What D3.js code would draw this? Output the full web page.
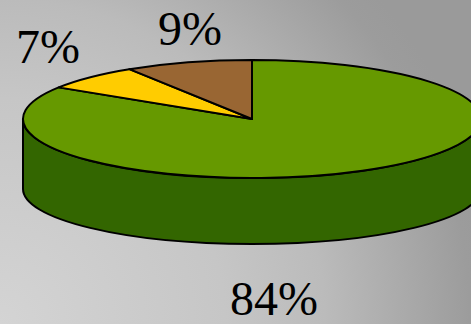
<!DOCTYPE html>
<html>
<head>
<meta charset="utf-8">
<script src="https://cdn.jsdelivr.net/npm/d3@7"></script>
<style>
  html, body { margin: 0; padding: 0; background: #bcbcbc; }
  svg { display: block; }
</style>
</head>
<body>
<svg id="chart" width="471" height="324"></svg>
<script>
// ---- data ----
const categories = ["A", "B", "C"];
const values = [84, 7, 9];
const labels = ["84%", "7%", "9%"];
const topColors = ["#669900", "#ffcc00", "#996633"];
const sideColors = ["#336600", "#cc9900", "#663300"];

// ---- layout ----
const W = 471, H = 324;
const cx = 252, cy = 119, rx = 229, ry = 59, depth = 70, ryBottom = 55;
// label anchor points (text centre, baseline) chosen to match the reference
const labelPos = [[274, 315], [48, 63], [190, 45]];

const svg = d3.select("#chart");
const defs = svg.append("defs");
const grad = defs.append("radialGradient")
  .attr("id", "bg").attr("gradientUnits", "userSpaceOnUse")
  .attr("cx", 0).attr("cy", H).attr("r", 500).attr("fx", 0).attr("fy", H);
grad.append("stop").attr("offset", 0).attr("stop-color", "#d4d4d4");
grad.append("stop").attr("offset", 0.45).attr("stop-color", "#c6c6c6");
grad.append("stop").attr("offset", 0.65).attr("stop-color", "#bbbbbb");
grad.append("stop").attr("offset", 0.94).attr("stop-color", "#9c9c9c");
grad.append("stop").attr("offset", 1).attr("stop-color", "#9a9a9a");
svg.append("rect").attr("width", W).attr("height", H).attr("fill", "url(#bg)");

const pie = d3.pie().sort(null).value(d => d)(values);

// angle measured clockwise from 12 o'clock
const sx = d3.scaleLinear().domain([-1, 1]).range([cx - rx, cx + rx]);
const topPt = a => [sx(Math.sin(a)), cy - ry * Math.cos(a)];
const botPt = a => [sx(Math.sin(a)), cy + depth - ryBottom * Math.cos(a)];

const g = svg.append("g");

// side walls (front half only: angles PI/2 .. 3PI/2)
pie.forEach((d, i) => {
  const s = Math.max(d.startAngle, Math.PI / 2);
  const e = Math.min(d.endAngle, 3 * Math.PI / 2);
  if (e <= s) return;
  const p0 = topPt(s), p1 = topPt(e), b1 = botPt(e), b0 = botPt(s);
  const large = (e - s) > Math.PI ? 1 : 0;
  const path = `M${p0[0]},${p0[1]} A${rx},${ry} 0 ${large} 1 ${p1[0]},${p1[1]}` +
    ` L${b1[0]},${b1[1]} A${rx},${ryBottom} 0 ${large} 0 ${b0[0]},${b0[1]} Z`;
  g.append("path").attr("d", path)
    .attr("fill", sideColors[i]).attr("stroke", "#000")
    .attr("stroke-width", 2).attr("stroke-linejoin", "round");
});

// top faces
pie.forEach((d, i) => {
  const p0 = topPt(d.startAngle), p1 = topPt(d.endAngle);
  const large = (d.endAngle - d.startAngle) > Math.PI ? 1 : 0;
  const path = `M${cx},${cy} L${p0[0]},${p0[1]} A${rx},${ry} 0 ${large} 1 ${p1[0]},${p1[1]} Z`;
  g.append("path").attr("d", path)
    .attr("fill", topColors[i]).attr("stroke", "#000")
    .attr("stroke-width", 2).attr("stroke-linejoin", "round");
});

// labels
svg.selectAll("text.lbl").data(labels).enter().append("text")
  .attr("class", "lbl")
  .attr("x", (d, i) => labelPos[i][0])
  .attr("y", (d, i) => labelPos[i][1])
  .attr("text-anchor", "middle")
  .attr("font-family", "'Liberation Serif', 'Times New Roman', serif")
  .attr("font-size", 48)
  .attr("fill", "#000")
  .text(d => d);
</script>
</body>
</html>
